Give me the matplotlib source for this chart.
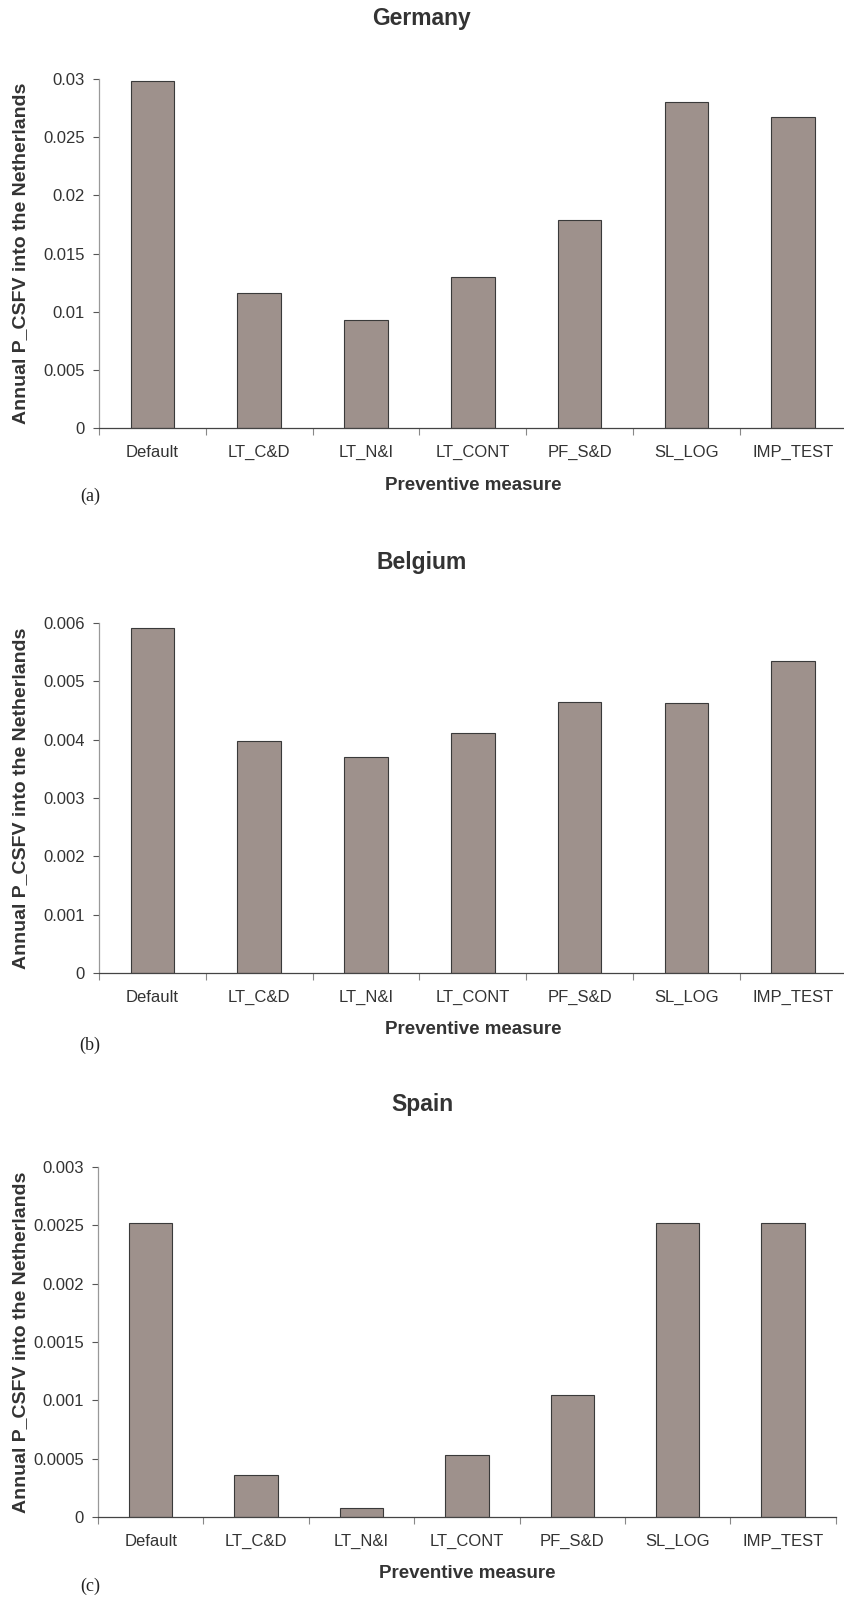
import matplotlib
matplotlib.use("Agg")
import matplotlib.pyplot as plt
import numpy as np

# Annual probability of CSFV introduction into the Netherlands per preventive measure
MEASURES = ["Default", "LT_C&D", "LT_N&I", "LT_CONT", "PF_S&D", "SL_LOG", "IMP_TEST"]

GERMANY = [0.0298, 0.0116, 0.0093, 0.0130, 0.0179, 0.0280, 0.0267]
BELGIUM = [0.00591, 0.00397, 0.00371, 0.00412, 0.00465, 0.00463, 0.00535]
SPAIN = [0.00252, 0.00036, 0.00008, 0.00053, 0.00105, 0.00252, 0.00252]

COUNTRIES = ["Germany", "Belgium", "Spain"]
PANEL_TAGS = ["(a)", "(b)", "(c)"]
Y_MAX = [0.03, 0.006, 0.003]
Y_STEP = [0.005, 0.001, 0.0005]

BAR_COLOR = "#9e918c"
EDGE_COLOR = "#3a3a3a"
TEXT_COLOR = "#333333"

W, H = 845, 1597
plt.rcParams["font.family"] = ["Liberation Sans", "DejaVu Sans"]
plt.rcParams["xtick.minor.pad"] = 12
plt.rcParams["xtick.minor.size"] = 0

fig = plt.figure(figsize=(W / 100, H / 100), dpi=100)
fig.patch.set_facecolor("white")

# panel geometry in pixels: left edge, y of zero line, y of top tick, width per category
layout = [
    (99, 428, 79, 106.8),
    (99, 973, 623, 106.8),
    (98, 1517, 1167, 105.4),
]
title_y = [18, 562, 1105]
tag_y = [496, 1045, 1586]


def draw_panel(i, values):
    left, zero_y, top_y, cat_w = layout[i]
    n = len(MEASURES)
    ax = fig.add_axes([left / W, (H - zero_y) / H, n * cat_w / W, (zero_y - top_y) / H])

    x = np.arange(n) + 0.5
    ax.bar(x, values, width=0.41, color=BAR_COLOR, edgecolor=EDGE_COLOR, linewidth=0.8)

    ax.set_xlim(0, n)
    ax.set_ylim(0, Y_MAX[i])

    # y ticks
    steps = int(round(Y_MAX[i] / Y_STEP[i]))
    yt = [round(k * Y_STEP[i], 6) for k in range(steps + 1)]
    ax.set_yticks(yt)
    ax.set_yticklabels([f"{v:g}" for v in yt], fontsize=12, color=TEXT_COLOR)
    ax.tick_params(axis="y", length=4, width=0.8, color="#555555", pad=6)

    # category separators as major ticks, names on minor ticks
    ax.set_xticks(np.arange(n + 1))
    ax.set_xticklabels([])
    ax.set_xticks(x, minor=True)
    ax.set_xticklabels(MEASURES, minor=True, fontsize=12, color=TEXT_COLOR)
    ax.tick_params(axis="x", which="major", length=5, width=0.8, color="#888888")

    for side in ("top", "right"):
        ax.spines[side].set_visible(False)
    ax.spines["left"].set_color("#999999")
    ax.spines["left"].set_linewidth(0.9)
    ax.spines["bottom"].set_color("#444444")
    ax.spines["bottom"].set_linewidth(0.9)

    ax.set_ylabel("Annual P_CSFV into the Netherlands", fontsize=14, fontweight="bold",
                  color=TEXT_COLOR)
    ax.yaxis.set_label_coords(-(left - 21) / (n * cat_w), 0.5)
    ax.yaxis.label.set_va("center")

    ax.set_xlabel("Preventive measure", fontsize=13.5, fontweight="bold", color=TEXT_COLOR)
    ax.xaxis.set_label_coords(0.5, -(57) / (zero_y - top_y))
    ax.xaxis.label.set_va("center")

    fig.text(422 / W, 1 - title_y[i] / H, COUNTRIES[i], ha="center", va="center",
             fontsize=16.5, fontweight="bold", color=TEXT_COLOR)
    fig.text(90 / W, 1 - tag_y[i] / H, PANEL_TAGS[i], ha="center", va="center",
             fontsize=13, family="Liberation Serif", color="#222222")
    return ax


for i, vals in enumerate([GERMANY, BELGIUM, SPAIN]):
    draw_panel(i, vals)

fig.savefig("out.png", dpi=100, facecolor="white")
